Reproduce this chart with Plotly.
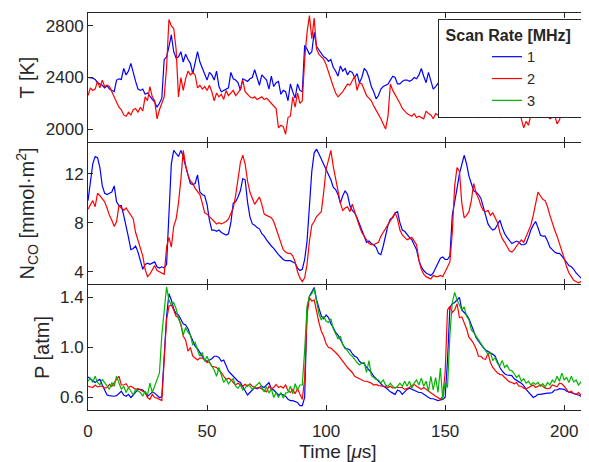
import plotly.graph_objects as go
from plotly.subplots import make_subplots

# ----------------------------- Data ----------------------------- #
# all traces are kept on a 1 us grid, 0..210 us
time_us = list(range(211))

temp_1mhz = [
    2400, 2400, 2395, 2385, 2360, 2350, 2340, 2320, 2335, 2310,
    2300, 2290, 2380, 2390, 2385, 2470, 2420, 2450, 2510, 2430,
    2370, 2310, 2300, 2310, 2270, 2280, 2250, 2230, 2210, 2170,
    2200, 2240, 2540, 2560, 2640, 2730, 2600, 2550, 2560, 2600,
    2520, 2580, 2540, 2510, 2430, 2520, 2600, 2520, 2470, 2420,
    2380, 2440, 2420, 2380, 2450, 2330, 2290, 2300, 2310, 2320,
    2440, 2390, 2380, 2360, 2300, 2390, 2380, 2370, 2390, 2400,
    2460, 2400, 2340, 2420, 2400, 2380, 2310, 2410, 2330, 2360,
    2370, 2270, 2300, 2290, 2220, 2350, 2290, 2240, 2350, 2300,
    2290, 2650, 2620, 2580, 2600, 2750, 2640, 2610, 2580, 2560,
    2550, 2525, 2540, 2480, 2450, 2410, 2490, 2450, 2470, 2420,
    2450, 2440, 2400, 2430, 2360, 2400, 2470, 2450, 2400, 2330,
    2290, 2235, 2260, 2310, 2330, 2340, 2350, 2380, 2410, 2400,
    2350, 2350, 2370, 2380, 2380, 2370, 2380, 2400, 2390, 2420,
    2470, 2410, 2360, 2440, 2380, 2310, 2330, 2360, 2380, 2350,
    2370, 2400, 2380, 2340, 2360, 2390, 2370, 2330, 2350, 2380,
    2360, 2340, 2370, 2390, 2350, 2330, 2360, 2380, 2340, 2320,
    2350, 2370, 2340, 2360, 2380, 2350, 2330, 2340, 2370, 2350,
    2320, 2340, 2360, 2330, 2350, 2370, 2340, 2320, 2350, 2330,
    2340, 2360, 2330, 2310, 2340, 2350, 2320, 2300, 2330, 2310,
    2330, 2350, 2320, 2300, 2330, 2310, 2320, 2260, 2210, 2300,
    2330,
]
temp_2mhz = [
    2260, 2320, 2300, 2310, 2370, 2320, 2380, 2330, 2340, 2330,
    2290, 2250, 2220, 2170, 2150, 2110, 2100, 2130, 2110, 2150,
    2160, 2130, 2170, 2140, 2250, 2220, 2330, 2250, 2220, 2080,
    2150, 2200, 2250, 2480, 2850, 2800, 2780, 2620, 2250, 2400,
    2300, 2390, 2450, 2420, 2440, 2420, 2320, 2340, 2310, 2330,
    2300, 2340, 2290, 2220, 2280, 2250, 2270, 2230, 2300, 2260,
    2280, 2300, 2260, 2280, 2310, 2380, 2290, 2270, 2250, 2240,
    2250, 2230, 2240, 2250, 2230, 2240, 2220, 2200, 2180, 2160,
    2010, 2030, 2020, 1960, 2090, 2100, 2250, 2170, 2280, 2200,
    2220, 2540, 2750, 2880, 2700, 2860, 2620, 2580, 2560, 2540,
    2500, 2440, 2380, 2330, 2280, 2250, 2270, 2290, 2320, 2350,
    2340, 2370, 2410, 2300, 2360, 2350, 2300, 2260, 2240, 2220,
    2180, 2150, 2120, 2080, 2040, 2000, 2100, 2350, 2300, 2270,
    2240, 2200, 2160, 2140, 2120, 2110, 2100, 2120, 2090, 2100,
    2090, 2080, 2140, 2120, 2110, 2080, 2120, 2110, 2130, 2100,
    2120, 2140, 2100, 2110, 2130, 2090, 2120, 2100, 2140, 2110,
    2120, 2130, 2100, 2110, 2090, 2120, 2100, 2130, 2110, 2120,
    2100, 2140, 2110, 2090, 2120, 2100, 2140, 2120, 2130, 2160,
    2110, 2140, 2080, 2010, 2060, 2030, 2110, 2140, 2120, 2100,
    2090, 2110, 2120, 2100, 2080, 2090, 2110, 2040, 2070, 2130,
    2150, 2120, 2100, 2110, 2130, 2180, 2220, 2160, 2090, 2240,
    2150,
]

nco_1mhz = [
    9.8, 11.5, 12.8, 13.4, 13.3, 12.5, 11.0, 10.4, 10.3, 10.4,
    10.5, 11.0, 9.7, 9.4, 9.4, 8.6, 7.8, 6.8, 5.8, 5.9,
    6.1, 5.6, 4.9, 4.2, 4.6, 4.7, 4.6, 4.7, 4.8, 4.4,
    4.3, 4.4, 4.3, 4.6, 9.4, 12.8, 13.9, 13.6, 13.4, 13.9,
    13.4, 12.6, 11.9, 11.2, 11.1, 11.2, 11.9, 10.5, 10.3, 10.2,
    9.5, 8.2, 7.4, 7.4, 7.3, 7.4, 7.2, 7.1, 7.0, 7.1,
    8.0, 9.6, 9.7, 10.1, 10.6, 11.6, 11.5, 9.7, 8.5, 7.9,
    7.8, 7.6, 7.5, 7.1, 6.9, 6.6, 6.3, 6.1, 5.9, 5.6,
    5.4, 5.2, 5.0, 4.9, 4.9, 4.9, 4.8, 4.7, 4.3, 4.1,
    4.2, 5.0, 6.5, 9.8, 12.2, 13.7, 14.0, 13.6, 13.2, 12.8,
    12.4, 12.0, 11.5, 10.9, 10.7, 10.3, 9.6, 10.2, 10.6, 10.3,
    9.4, 9.0, 8.8, 8.4, 7.9, 7.5, 7.0, 6.4, 6.5, 6.3,
    6.2, 6.0, 5.5, 5.4, 6.1, 7.0, 7.8, 8.3, 8.4, 8.8,
    8.9, 8.0, 7.4, 7.3, 7.0, 6.8, 6.6, 6.2, 5.8, 4.9,
    4.4, 4.1, 3.9, 3.8, 3.7, 3.9, 4.3, 4.8, 5.1, 5.2,
    5.0, 5.0, 5.3, 8.6, 9.6, 10.8, 12.0, 12.8, 13.5, 12.8,
    11.8, 11.2, 10.6, 10.5, 10.3, 10.0, 9.3, 8.6, 7.9, 7.6,
    7.4, 7.5, 7.8, 8.2, 7.6, 7.1, 6.8, 6.5, 6.3, 6.4,
    6.5, 6.4, 6.2, 6.2, 6.3, 6.8, 7.4, 7.8, 8.1, 7.6,
    7.0, 6.9, 6.9, 6.5, 6.0, 5.8, 5.6, 5.5, 5.5, 5.3,
    5.0, 4.7, 4.5, 4.4, 4.2, 3.9, 3.7, 3.5, 3.3, 3.1,
    3.0,
]
nco_2mhz = [
    9.1, 9.5, 9.8, 9.3, 10.4, 10.2, 9.9, 9.7, 9.2, 8.6,
    8.2, 7.7, 8.1, 9.4, 9.2, 9.0, 9.2, 8.9, 8.6, 8.3,
    7.2, 6.6, 5.9, 5.3, 4.2, 3.6, 3.8, 4.2, 4.5, 4.1,
    4.0, 3.9, 3.8, 6.0, 6.8, 6.0, 7.7, 8.3, 9.6, 11.5,
    13.9, 12.7, 11.9, 11.4, 11.2, 10.8, 10.5, 10.3, 9.6, 8.8,
    8.7, 8.5, 8.3, 8.1, 7.9, 8.0, 7.9, 8.0, 8.1, 8.3,
    8.7, 9.2, 10.2, 11.7, 12.9, 13.5, 12.8, 11.4, 10.5, 10.0,
    9.5, 9.8, 10.1, 9.5, 8.7, 8.6, 8.5, 8.4, 8.1, 7.5,
    6.9, 6.3, 5.8, 5.6, 5.5, 5.5, 5.3, 4.8, 4.0, 3.5,
    3.2, 3.5, 4.6, 6.5, 7.8, 8.1, 8.5, 8.7, 8.9, 10.5,
    12.4, 13.1, 13.9, 12.6, 11.6, 10.5, 9.6, 9.0, 9.2, 9.3,
    8.9, 9.5, 8.9, 8.2, 7.7, 7.2, 6.9, 6.7, 6.3, 6.2,
    6.2, 6.3, 6.4, 6.9, 7.2, 7.5, 7.9, 8.2, 8.4, 8.8,
    8.3, 7.4, 7.0, 6.8, 6.6, 6.7, 6.8, 6.5, 6.2, 4.9,
    4.2, 3.8, 3.6, 3.5, 3.4, 3.7, 3.6, 3.6, 3.7, 3.6,
    4.0, 4.4, 4.8, 7.2, 11.0, 12.5, 12.2, 9.6, 8.4, 8.6,
    8.9, 9.8, 11.2, 10.4, 10.0, 9.4, 9.0, 8.9, 9.0, 8.6,
    8.8, 8.4, 8.0, 7.2, 6.7, 6.4, 6.0, 5.7, 5.6, 5.8,
    6.1, 6.4, 6.6, 6.4, 6.9, 7.4, 7.8, 8.6, 9.6, 10.5,
    10.2, 9.9, 9.8, 9.3, 8.6, 7.9, 7.4, 6.9, 6.3, 5.8,
    5.1, 4.4, 3.9, 3.6, 3.3, 3.2, 3.1, 3.2, 3.3, 3.3,
    3.4,
]

pres_1mhz = [
    0.765, 0.75, 0.735, 0.72, 0.735, 0.745, 0.70, 0.66, 0.62, 0.615,
    0.61, 0.61, 0.615, 0.63, 0.65, 0.62, 0.61, 0.625, 0.60, 0.62,
    0.645, 0.665, 0.665, 0.66, 0.64, 0.61, 0.625, 0.645, 0.635, 0.62,
    0.60, 0.605, 0.93, 1.25, 1.43, 1.38, 1.31, 1.27, 1.26, 1.22,
    1.19, 1.18, 1.15, 1.10, 1.06, 1.01, 0.99, 0.96, 0.94, 0.90,
    0.89, 0.90, 0.91, 0.93, 0.93, 0.92, 0.89, 0.90, 0.86, 0.81,
    0.79, 0.77, 0.75, 0.73, 0.72, 0.69, 0.65, 0.62, 0.64, 0.66,
    0.68, 0.67, 0.68, 0.69, 0.68, 0.70, 0.72, 0.67, 0.66, 0.64,
    0.62, 0.63, 0.62, 0.61, 0.585, 0.575, 0.575, 0.57, 0.56, 0.535,
    0.535, 0.60, 1.30, 1.41, 1.44, 1.48, 1.38, 1.31, 1.25, 1.23,
    1.26, 1.24, 1.19, 1.16, 1.12, 1.10, 1.06, 1.03, 0.99, 0.99,
    0.98, 0.95, 0.93, 0.92, 0.89, 0.875, 0.87, 0.84, 0.82, 0.80,
    0.77, 0.75, 0.73, 0.71, 0.69, 0.68, 0.66, 0.645, 0.635, 0.625,
    0.66, 0.65, 0.625, 0.645, 0.665, 0.675, 0.665, 0.655, 0.645, 0.64,
    0.64, 0.63, 0.615, 0.60, 0.59, 0.59, 0.585, 0.575, 0.58, 0.585,
    0.60, 0.90, 1.32, 1.35, 1.36, 1.38, 1.40, 1.30, 1.28, 1.26,
    1.23, 1.18, 1.13, 1.08, 1.05, 1.02, 1.00, 0.98, 0.97, 0.96,
    0.945, 0.93, 0.88, 0.84, 0.81, 0.79, 0.78, 0.775, 0.775, 0.75,
    0.735, 0.725, 0.715, 0.695, 0.665, 0.645, 0.625, 0.60, 0.61, 0.625,
    0.625, 0.63, 0.635, 0.635, 0.635, 0.64, 0.66, 0.66, 0.67, 0.67,
    0.665, 0.65, 0.645, 0.635, 0.635, 0.63, 0.62, 0.61, 0.60, 0.59,
    0.585,
]
pres_2mhz = [
    0.69, 0.685, 0.68, 0.70, 0.685, 0.69, 0.69, 0.675, 0.68, 0.705,
    0.69, 0.72, 0.745, 0.77, 0.70, 0.70, 0.71, 0.68, 0.69, 0.675,
    0.665, 0.67, 0.66, 0.65, 0.64, 0.60, 0.585, 0.625, 0.60, 0.595,
    0.585, 0.575, 0.90, 1.22, 1.33, 1.34, 1.30, 1.25, 1.24, 1.18,
    1.09, 1.06, 0.97, 1.00, 0.93, 0.915, 0.90, 0.915, 0.915, 0.90,
    0.88, 0.885, 0.85, 0.845, 0.84, 0.815, 0.80, 0.77, 0.745, 0.755,
    0.745, 0.72, 0.70, 0.715, 0.70, 0.69, 0.705, 0.69, 0.71, 0.69,
    0.68, 0.675, 0.68, 0.67, 0.66, 0.645, 0.69, 0.67, 0.68, 0.705,
    0.68, 0.69, 0.675, 0.70, 0.655, 0.64, 0.665, 0.63, 0.67, 0.63,
    0.585, 0.75, 1.26, 1.40, 1.37, 1.38, 1.28, 1.20, 1.13, 1.09,
    1.03, 1.00, 0.995, 0.98, 0.96, 0.94, 0.915, 0.89, 0.86, 0.84,
    0.82, 0.80, 0.77, 0.76, 0.755, 0.745, 0.73, 0.73, 0.725, 0.715,
    0.70, 0.705, 0.695, 0.69, 0.69, 0.69, 0.68, 0.69, 0.675, 0.68,
    0.68, 0.675, 0.68, 0.665, 0.67, 0.68, 0.695, 0.705, 0.69, 0.68,
    0.665, 0.68, 0.665, 0.65, 0.64, 0.625, 0.61, 0.60, 0.585, 0.61,
    0.80, 1.30, 1.33, 1.28, 1.30, 1.35, 1.24, 1.245, 1.20, 1.15,
    1.08, 1.06, 1.03, 0.99, 0.93, 0.93, 0.91, 0.905, 0.955, 0.88,
    0.84, 0.82, 0.795, 0.785, 0.78, 0.76, 0.745, 0.725, 0.72, 0.71,
    0.72, 0.69, 0.69, 0.675, 0.67, 0.68, 0.69, 0.70, 0.68, 0.69,
    0.70, 0.69, 0.675, 0.67, 0.675, 0.70, 0.695, 0.685, 0.715, 0.71,
    0.69, 0.665, 0.64, 0.65, 0.63, 0.625, 0.64, 0.62, 0.60, 0.62,
    0.615,
]
pres_3mhz = [
    0.73, 0.755, 0.72, 0.77, 0.72, 0.70, 0.745, 0.72, 0.69, 0.665,
    0.72, 0.69, 0.77, 0.72, 0.665, 0.69, 0.64, 0.68, 0.65, 0.62,
    0.665, 0.65, 0.64, 0.61, 0.65, 0.62, 0.715, 0.64, 0.69, 0.745,
    0.795, 1.10, 1.325, 1.485, 1.38, 1.34, 1.36, 1.31, 1.23, 1.19,
    1.10, 1.16, 1.12, 1.10, 1.02, 1.04, 0.98, 0.93, 0.96, 0.89,
    0.93, 0.88, 0.85, 0.82, 0.77, 0.84, 0.78, 0.72, 0.75, 0.71,
    0.735, 0.75, 0.69, 0.675, 0.70, 0.66, 0.675, 0.70, 0.69, 0.665,
    0.685, 0.70, 0.72, 0.685, 0.645, 0.685, 0.635, 0.67, 0.60, 0.64,
    0.60, 0.64, 0.595, 0.635, 0.64, 0.69, 0.63, 0.71, 0.66, 0.70,
    0.70, 0.98, 1.33, 1.41, 1.43, 1.47, 1.36, 1.27, 1.22, 1.25,
    1.21, 1.20, 1.23, 1.15, 1.11, 1.07, 1.09, 1.02, 1.00, 0.97,
    0.945, 0.93, 0.90, 0.88, 0.86, 0.875, 0.88, 0.80, 0.895, 0.775,
    0.76, 0.745, 0.74, 0.715, 0.74, 0.70, 0.69, 0.715, 0.69, 0.675,
    0.69, 0.715, 0.69, 0.73, 0.69, 0.73, 0.675, 0.715, 0.74, 0.70,
    0.755, 0.69, 0.73, 0.65, 0.77, 0.66, 0.76, 0.64, 0.835, 0.585,
    0.72, 0.68, 1.10, 1.36, 1.44, 1.38, 1.34, 1.30, 1.325, 1.25,
    1.22, 1.14, 1.12, 1.09, 1.07, 1.035, 1.00, 0.98, 0.945, 0.96,
    0.895, 0.92, 0.87, 0.855, 0.895, 0.84, 0.86, 0.82, 0.815, 0.79,
    0.76, 0.78, 0.73, 0.75, 0.715, 0.73, 0.70, 0.72, 0.705, 0.72,
    0.69, 0.71, 0.685, 0.72, 0.70, 0.74, 0.72, 0.77, 0.73, 0.795,
    0.74, 0.76, 0.72, 0.77, 0.725, 0.74, 0.70, 0.725, 0.685, 0.71,
    0.72,
]

rates = ["1", "2", "3"]
colors = {"1": "#0000ff", "2": "#ff0000", "3": "#00b400"}

axis_color = "#262626"
font_family = "Liberation Sans, Arial, sans-serif"


def main():
    fig = make_subplots(rows=3, cols=1, shared_xaxes=True, vertical_spacing=0.0025)

    panels = [
        (1, {"1": temp_1mhz, "2": temp_2mhz}),
        (2, {"1": nco_1mhz, "2": nco_2mhz}),
        (3, {"1": pres_1mhz, "2": pres_2mhz, "3": pres_3mhz}),
    ]
    shown = set()
    for row, series in panels:
        for rate in rates:
            if rate not in series:
                continue
            fig.add_trace(
                go.Scatter(
                    x=time_us,
                    y=series[rate],
                    mode="lines",
                    name=rate,
                    legendgroup=rate,
                    showlegend=rate not in shown,
                    line=dict(color=colors[rate], width=1.2),
                ),
                row=row,
                col=1,
            )
            shown.add(rate)

    # ------------------------------- Axes format ------------------------------ #
    common = dict(
        showline=True,
        linecolor=axis_color,
        linewidth=1,
        mirror="allticks",
        ticks="inside",
        ticklen=5,
        tickcolor=axis_color,
        showgrid=False,
        zeroline=False,
        automargin=False,
        tickfont=dict(size=17, color=axis_color),
    )
    for row in (1, 2, 3):
        fig.update_xaxes(
            range=[0, 210],
            tickvals=[0, 50, 100, 150, 200],
            showticklabels=(row == 3),
            row=row,
            col=1,
            **common,
        )
    fig.update_xaxes(
        ticklabelstandoff=6,
        title=dict(text="Time [<i>μ</i>s]", font=dict(size=19), standoff=3),
        row=3, col=1,
    )

    fig.update_yaxes(
        range=[1900, 2900], tickvals=[2000, 2400, 2800],
        title=dict(text="T [K]", font=dict(size=20), standoff=5),
        row=1, col=1, **common,
    )
    fig.update_yaxes(
        range=[3, 14.5], tickvals=[4, 8, 12],
        title=dict(text="N<sub>CO</sub> [mmol·m<sup>2</sup>]", font=dict(size=20), standoff=24),
        row=2, col=1, **common,
    )
    fig.update_yaxes(
        range=[0.5, 1.5], tickvals=[0.6, 1.0, 1.4], tickformat=".1f",
        title=dict(text="P [atm]", font=dict(size=20), standoff=4),
        row=3, col=1, **common,
    )

    fig.update_layout(
        yaxis=dict(domain=[0.675, 1.0]),
        yaxis2=dict(domain=[0.3174, 0.6725]),
        yaxis3=dict(domain=[0.0, 0.3149]),
    )

    # ---------------------------------- Legend --------------------------------- #
    # the page body keeps an 8px margin, so the figure is 8px smaller each way
    fig.update_layout(
        width=581,
        height=454,
        margin=dict(l=80, r=1, t=5, b=52, autoexpand=False),
        plot_bgcolor="white",
        paper_bgcolor="white",
        font=dict(family=font_family, size=15, color=axis_color),
        showlegend=True,
        legend=dict(
            x=0.70,
            y=0.985,
            xanchor="left",
            yanchor="top",
            bgcolor="white",
            bordercolor=axis_color,
            borderwidth=1,
            font=dict(size=14.5, color=axis_color),
            title=dict(
                text="&nbsp;<b>Scan Rate [MHz]</b>&nbsp;&nbsp;",
                side="top center",
                font=dict(size=16),
            ),
            indentation=48,
            tracegroupgap=0,
        ),
    )
    # separator under the legend title
    fig.add_shape(
        type="line", xref="paper", yref="paper",
        x0=0.70, x1=0.984, y0=0.9244, y1=0.9244,
        line=dict(color=axis_color, width=1),
    )

    fig.write_html("out.html")


if __name__ == "__main__":
    main()
